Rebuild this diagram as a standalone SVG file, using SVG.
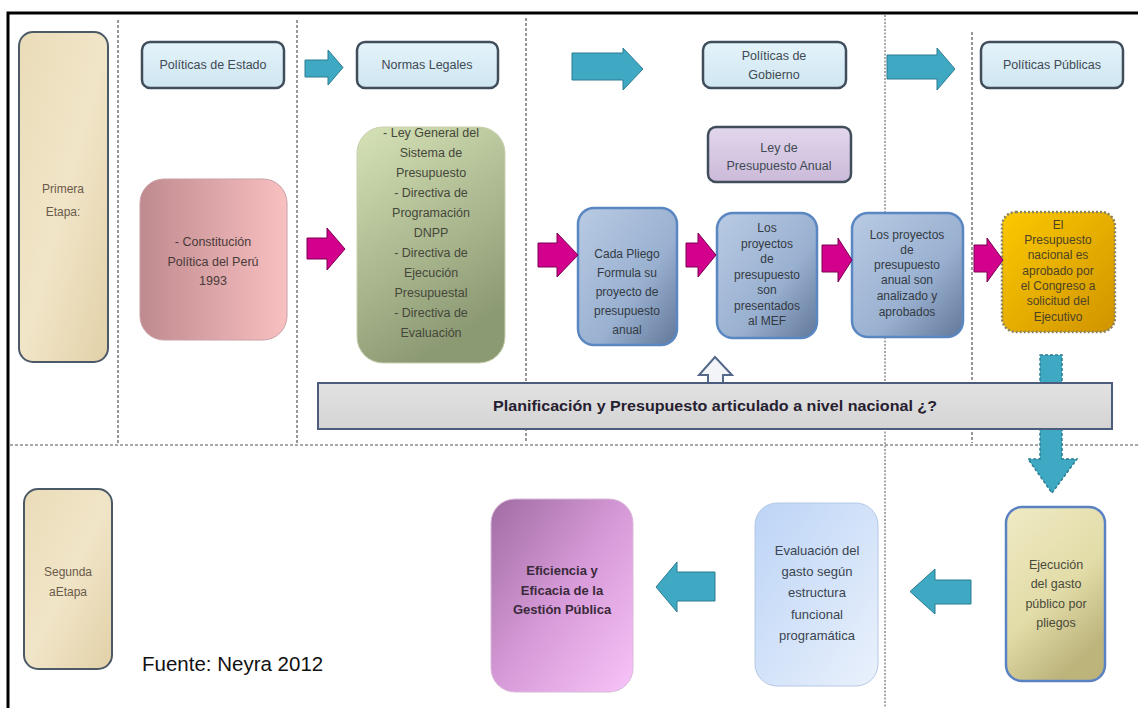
<svg xmlns="http://www.w3.org/2000/svg" width="1138" height="708" viewBox="0 0 1138 708">
<defs>
  <linearGradient id="gHdr" x1="0" y1="0" x2="0" y2="1"><stop offset="0" stop-color="#e4f3fa"/><stop offset="1" stop-color="#cfe6f1"/></linearGradient>
  <linearGradient id="gParch" x1="0" y1="0" x2="1" y2="1"><stop offset="0" stop-color="#eadcb8"/><stop offset="0.5" stop-color="#f1e5c8"/><stop offset="1" stop-color="#e2d1a8"/></linearGradient>
  <linearGradient id="gPink" x1="0" y1="0" x2="1" y2="0"><stop offset="0" stop-color="#bf8a8f"/><stop offset="1" stop-color="#f9c0c0"/></linearGradient>
  <linearGradient id="gGreen" x1="0" y1="0" x2="0.4" y2="1"><stop offset="0" stop-color="#d6e2b6"/><stop offset="1" stop-color="#8c9a74"/></linearGradient>
  <linearGradient id="gBlue" x1="0" y1="0" x2="1" y2="1"><stop offset="0" stop-color="#b9cbe4"/><stop offset="0.6" stop-color="#99b0d0"/><stop offset="1" stop-color="#62789a"/></linearGradient>
  <linearGradient id="gGold" x1="0" y1="0" x2="1" y2="1"><stop offset="0" stop-color="#fbc900"/><stop offset="1" stop-color="#d09400"/></linearGradient>
  <linearGradient id="gLav" x1="0" y1="0" x2="0" y2="1"><stop offset="0" stop-color="#e2d6ec"/><stop offset="1" stop-color="#cbbad9"/></linearGradient>
  <linearGradient id="gBar" x1="0" y1="0" x2="0" y2="1"><stop offset="0" stop-color="#e2e2e2"/><stop offset="1" stop-color="#d4d4d4"/></linearGradient>
  <linearGradient id="gKhaki" x1="0" y1="0" x2="0.5" y2="1"><stop offset="0" stop-color="#efeac4"/><stop offset="0.6" stop-color="#e2dca8"/><stop offset="1" stop-color="#bdb47c"/></linearGradient>
  <linearGradient id="gEval" x1="0" y1="0" x2="1" y2="1"><stop offset="0" stop-color="#bcd4f6"/><stop offset="1" stop-color="#eaf1fc"/></linearGradient>
  <linearGradient id="gPurp" x1="0" y1="0" x2="1" y2="1"><stop offset="0" stop-color="#a06ca2"/><stop offset="0.5" stop-color="#d69ad8"/><stop offset="1" stop-color="#f8c4f8"/></linearGradient>
</defs>
<style>
  .t{font-family:"Liberation Sans",Arial,sans-serif;font-size:12px;fill:#3a4048;text-anchor:middle}
  .h{font-size:12.5px;fill:#404a54}
  .hdr{fill:url(#gHdr);stroke:#404e5c;stroke-width:2.5}
  .parch{fill:url(#gParch);stroke:#4c5a68;stroke-width:2}
  .bluebox{fill:url(#gBlue);stroke:#5a86c2;stroke-width:2.5}
  .teal{fill:#3fa8c2;stroke:#2b7d92;stroke-width:1}
  .mag{fill:#d2008c;stroke:#7a0052;stroke-width:1}
  .vd{stroke:#555;stroke-width:1.2;stroke-dasharray:3 2;fill:none}
</style>
<rect x="0" y="0" width="1138" height="708" fill="#fff"/>
<rect x="8" y="13" width="1140" height="710" fill="none" stroke="#000" stroke-width="3"/>

<g id="grid">
  <line class="vd" x1="118" y1="20" x2="118" y2="443"/>
  <line class="vd" x1="297" y1="20" x2="297" y2="443"/>
  <line class="vd" x1="526" y1="18" x2="526" y2="443"/>
  <line class="vd" x1="885" y1="15" x2="885" y2="708" style="stroke-dasharray:2 1.5;stroke-width:1"/>
  <line class="vd" x1="972" y1="32" x2="972" y2="443"/>
  <line class="vd" x1="10" y1="445" x2="1138" y2="445"/>
</g>

<g id="primera-etapa">
  <rect class="parch" x="19" y="32" width="89" height="330" rx="14"/>
  <text class="t" x="63" y="193" style="fill:#6a5a4a">Primera</text>
  <text class="t" x="63" y="216" style="fill:#6a5a4a">Etapa:</text>
</g>
<g id="segunda-etapa">
  <rect class="parch" x="24" y="489" width="88" height="180" rx="14"/>
  <text class="t" x="68" y="576" style="fill:#6a5a4a">Segunda</text>
  <text class="t" x="68" y="596" style="fill:#6a5a4a">aEtapa</text>
</g>

<g id="politicas-estado">
  <rect class="hdr" x="142" y="42" width="142" height="46" rx="8"/>
  <text class="t h" x="213" y="69">Políticas de Estado</text>
</g>
<g id="normas-legales">
  <rect class="hdr" x="357" y="42" width="141" height="46" rx="8"/>
  <text class="t h" x="427" y="69">Normas Legales</text>
</g>
<g id="politicas-gobierno">
  <rect class="hdr" x="703" y="42" width="143" height="46" rx="8"/>
  <text class="t h" x="774" y="60">Políticas de</text>
  <text class="t h" x="774" y="79">Gobierno</text>
</g>
<g id="politicas-publicas">
  <rect class="hdr" x="981" y="42" width="142" height="46" rx="8"/>
  <text class="t h" x="1052" y="69">Políticas Públicas</text>
</g>
<g id="ley-presupuesto">
  <rect x="708" y="127" width="143" height="55" rx="8" fill="url(#gLav)" stroke="#404e5c" stroke-width="2.5"/>
  <text class="t h" x="779" y="152">Ley de</text>
  <text class="t h" x="779" y="170">Presupuesto Anual</text>
</g>

<g id="constitucion">
  <rect x="140" y="179" width="147" height="161" rx="24" fill="url(#gPink)" stroke="#c8a0a8" stroke-width="1"/>
  <text class="t h" x="213" y="246" style="fill:#4a3a3a">- Constitución</text>
  <text class="t h" x="213" y="266" style="fill:#4a3a3a">Política del Perú</text>
  <text class="t h" x="213" y="285" style="fill:#4a3a3a">1993</text>
</g>

<g id="normas-lista">
  <rect x="357" y="127" width="148" height="236" rx="26" fill="url(#gGreen)" stroke="#c8d0b0" stroke-width="1"/>
  <g class="t" style="font-size:12.5px;fill:#45473a">
    <text x="431" y="137">- Ley General del</text>
    <text x="431" y="157">Sistema de</text>
    <text x="431" y="177">Presupuesto</text>
    <text x="431" y="197">- Directiva de</text>
    <text x="431" y="217">Programación</text>
    <text x="431" y="237">DNPP</text>
    <text x="431" y="257">- Directiva de</text>
    <text x="431" y="277">Ejecución</text>
    <text x="431" y="297">Presupuestal</text>
    <text x="431" y="317">- Directiva de</text>
    <text x="431" y="337">Evaluación</text>
  </g>
</g>

<g id="cada-pliego">
  <rect class="bluebox" x="578" y="208" width="99" height="137" rx="16"/>
  <g class="t" style="fill:#333a44">
    <text x="627" y="258">Cada Pliego</text>
    <text x="627" y="277">Formula su</text>
    <text x="627" y="296">proyecto de</text>
    <text x="627" y="315">presupuesto</text>
    <text x="627" y="334">anual</text>
  </g>
</g>
<g id="presentados-mef">
  <rect class="bluebox" x="717" y="213" width="100" height="125" rx="16"/>
  <g class="t" style="fill:#333a44">
    <text x="767" y="232">Los</text>
    <text x="767" y="248">proyectos</text>
    <text x="767" y="263">de</text>
    <text x="767" y="279">presupuesto</text>
    <text x="767" y="294">son</text>
    <text x="767" y="310">presentados</text>
    <text x="767" y="325">al MEF</text>
  </g>
</g>
<g id="analizados">
  <rect class="bluebox" x="852" y="213" width="111" height="124" rx="16"/>
  <g class="t" style="fill:#333a44">
    <text x="907" y="239">Los proyectos</text>
    <text x="907" y="254">de</text>
    <text x="907" y="269">presupuesto</text>
    <text x="907" y="284">anual son</text>
    <text x="907" y="300">analizado y</text>
    <text x="907" y="316">aprobados</text>
  </g>
</g>
<g id="aprobado-congreso">
  <rect x="1002" y="212" width="113" height="120" rx="14" fill="url(#gGold)" stroke="#8a8262" stroke-width="2.5" stroke-dasharray="2 2"/>
  <g class="t" style="fill:#4e4226">
    <text x="1058" y="229">El</text>
    <text x="1058" y="244">Presupuesto</text>
    <text x="1058" y="259">nacional es</text>
    <text x="1058" y="275">aprobado por</text>
    <text x="1058" y="290">el Congreso a</text>
    <text x="1058" y="305">solicitud del</text>
    <text x="1058" y="321">Ejecutivo</text>
  </g>
</g>

<g id="connectors">
  <polygon class="teal" points="305,60 328,60 328,50 343,67.5 328,85 328,77 305,77"/>
  <polygon class="teal" points="572,53 623,53 623,48 643,69 623,90 623,80 572,80"/>
  <polygon class="teal" points="887,55 937,55 937,48 955,69 937,90 937,79 887,79"/>
  <polygon class="mag" points="307,238 327,238 327,228 345,249 327,270 327,259 307,259"/>
  <polygon class="mag" points="538,243 557,243 557,233 578,255 557,277 557,267 538,267"/>
  <polygon class="mag" points="686,243 698,243 698,233 716,255 698,277 698,267 686,267"/>
  <polygon class="mag" points="822,245 838,245 838,238 852,260 838,282 838,272 822,272"/>
  <polygon class="mag" points="974,245 987,245 987,238 1003,260 987,282 987,272 974,272"/>
  <polygon class="teal" points="1040,355 1062,355 1062,459 1077,459 1052,493 1028,459 1040,459" style="stroke-dasharray:3 2;stroke-width:1.5"/>
  <polygon class="teal" points="910,591.5 935,569 935,580 971,580 971,604 935,604 935,614"/>
  <polygon class="teal" points="656,587 677,562 677,572 715,572 715,601 677,601 677,612"/>
  <polygon points="715,357 732,375 723,375 723,384 708,384 708,375 699,375" fill="#f2f4f8" stroke="#56688a" stroke-width="2"/>
</g>

<g id="planificacion">
  <rect x="318" y="383" width="794" height="46" fill="url(#gBar)" stroke="#4c5c7c" stroke-width="2"/>
  <text x="715" y="411" text-anchor="middle" font-family="'Liberation Sans',Arial,sans-serif" font-weight="bold" font-size="14.5" fill="#262030" textLength="444" lengthAdjust="spacingAndGlyphs">Planificación y Presupuesto articulado a nivel nacional ¿?</text>
</g>

<g id="ejecucion">
  <rect x="1006" y="507" width="99" height="174" rx="16" fill="url(#gKhaki)" stroke="#5a82c2" stroke-width="2.5"/>
  <g class="t" style="font-size:12.5px;fill:#4a4a3a">
    <text x="1056" y="569">Ejecución</text>
    <text x="1056" y="588">del gasto</text>
    <text x="1056" y="608">público por</text>
    <text x="1056" y="627">pliegos</text>
  </g>
</g>
<g id="evaluacion">
  <rect x="755" y="503" width="123" height="183" rx="22" fill="url(#gEval)" stroke="#b4c8e4" stroke-width="1"/>
  <g class="t" style="font-size:13px;fill:#3a4450">
    <text x="817" y="555">Evaluación del</text>
    <text x="817" y="576">gasto según</text>
    <text x="817" y="597">estructura</text>
    <text x="817" y="619">funcional</text>
    <text x="817" y="640">programática</text>
  </g>
</g>
<g id="eficiencia">
  <rect x="491" y="499" width="142" height="193" rx="24" fill="url(#gPurp)" stroke="#d8b8d8" stroke-width="1"/>
  <g class="t" style="font-size:13px;font-weight:bold;fill:#3a2a3a">
    <text x="562" y="575">Eficiencia y</text>
    <text x="562" y="595">Eficacia de la</text>
    <text x="562" y="614">Gestión Pública</text>
  </g>
</g>

<text x="142" y="671" font-family="'Liberation Sans',Arial,sans-serif" font-size="20.5" fill="#111">Fuente: Neyra 2012</text>
</svg>
